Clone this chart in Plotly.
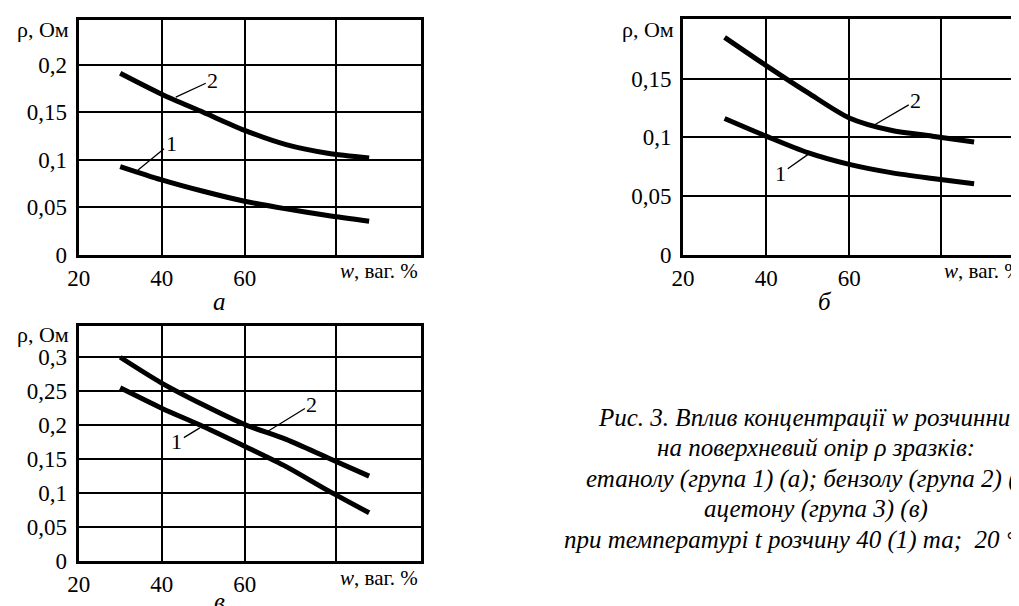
import plotly.graph_objects as go

# ---------------- data ----------------
w = [30, 40, 50, 60, 70, 80, 90]

a_rho_1 = [0.093, 0.079, 0.067, 0.0565, 0.0485, 0.0415, 0.0355]
a_rho_2 = [0.191, 0.169, 0.150, 0.131, 0.116, 0.107, 0.102]

b_rho_1 = [0.116, 0.101, 0.087, 0.077, 0.070, 0.065, 0.0605]
b_rho_2 = [0.185, 0.161, 0.138, 0.1165, 0.106, 0.101, 0.096]

v_rho_1 = [0.255, 0.225, 0.198, 0.169, 0.139, 0.104, 0.071]
v_rho_2 = [0.300, 0.262, 0.230, 0.201, 0.179, 0.152, 0.125]

x_ticks = [20, 40, 60, 82]
x_tick_labels = ["20", "40", "60", ""]

a_y_ticks = [0, 0.05, 0.1, 0.15, 0.2]
a_y_labels = ["0", "0,05", "0,1", "0,15", "0,2"]
b_y_ticks = [0, 0.05, 0.1, 0.15]
b_y_labels = ["0", "0,05", "0,1", "0,15"]
v_y_ticks = [0, 0.05, 0.1, 0.15, 0.2, 0.25, 0.3]
v_y_labels = ["0", "0,05", "0,1", "0,15", "0,2", "0,25", "0,3"]

y_title = "ρ, Ом"
x_title = "<i>w</i>, ваг. %"
panel_letters = ["а", "б", "в"]
caption_lines = [
    "Рис. 3. Вплив концентрації w розчинника",
    "на поверхневий опір ρ зразків:",
    "етанолу (група 1) (а); бензолу (група 2) (б);",
    "ацетону (група 3) (в)",
    "при температурі t розчину 40 (1) та;  20 °C (2)",
]

# ---------------- figure ----------------
W, H = 1019, 606
FONT = "Liberation Serif, Times New Roman, serif"


def px(x):
    return x / W


def py(y):
    return 1 - y / H


fig = go.Figure()

panels = [
    ("x", "y", a_rho_1, a_rho_2),
    ("x2", "y2", b_rho_1, b_rho_2),
    ("x3", "y3", v_rho_1, v_rho_2),
]
for xa, ya, r1, r2 in panels:
    for r in (r1, r2):
        fig.add_trace(go.Scatter(
            x=w, y=r, xaxis=xa, yaxis=ya, mode="lines",
            line=dict(color="black", width=5, shape="spline", smoothing=0.8),
            showlegend=False, hoverinfo="skip"))


def xaxis(domain, rng):
    return dict(domain=domain, range=rng, tickvals=x_ticks, ticktext=x_tick_labels,
                showgrid=True, gridcolor="black", gridwidth=2, zeroline=False,
                showline=True, linecolor="black", linewidth=3, mirror=True,
                ticks="", automargin=False,
                tickfont=dict(family=FONT, size=23, color="black"),
                fixedrange=True)


def yaxis(domain, rng, tv, tt):
    return dict(domain=domain, range=rng, tickvals=tv, ticktext=tt,
                showgrid=True, gridcolor="black", gridwidth=2, zeroline=False,
                showline=True, linecolor="black", linewidth=3, mirror=True,
                ticks="", ticklabelstandoff=4, automargin=False,
                tickfont=dict(family=FONT, size=23, color="black"),
                fixedrange=True)


fig.update_layout(
    width=W, height=H, autosize=False,
    margin=dict(l=0, r=0, t=0, b=0, pad=0),
    paper_bgcolor="white", plot_bgcolor="white",
    xaxis=dict(xaxis([px(70.7), px(413)], [20, 102.5]), anchor="y"),
    yaxis=dict(yaxis([py(247), py(11.5)], [0, 0.2475], a_y_ticks, a_y_labels), anchor="x"),
    xaxis2=dict(xaxis([px(675), px(1016)], [20, 102.0]), anchor="y2"),
    yaxis2=dict(yaxis([py(247), py(10.5)], [0, 0.201], b_y_ticks, b_y_labels), anchor="x2"),
    xaxis3=dict(xaxis([px(70.7), px(413)], [20, 102.5]), anchor="y3"),
    yaxis3=dict(yaxis([py(553), py(318)], [0, 0.346], v_y_ticks, v_y_labels), anchor="x3"),
)

ann = []
txt = dict(family=FONT, size=22, color="black")

# axis titles
for xr, yc in [(63, 21.5), (668, 22), (63, 326)]:
    ann.append(dict(text=y_title, x=px(xr), y=py(yc), xref="paper", yref="paper",
                    xanchor="right", yanchor="middle", showarrow=False, font=txt))
for xr, yc in [(411, 263), (1015, 263), (411, 570)]:
    ann.append(dict(text=x_title, x=px(xr), y=py(yc), xref="paper", yref="paper",
                    xanchor="right", yanchor="middle", showarrow=False, borderpad=0,
                    font=dict(family=FONT, size=21, color="black")))

# panel letters
for letter, (xc, yc) in zip(panel_letters, [(211, 293), (817, 293), (211, 593)]):
    ann.append(dict(text="<i>" + letter + "</i>", x=px(xc), y=py(yc), xref="paper", yref="paper",
                    xanchor="center", yanchor="middle", showarrow=False, borderpad=0,
                    font=dict(family=FONT, size=25, color="black")))

# curve labels with leader lines
lbl = dict(family=FONT, size=22, color="black")
curve_labels = [
    ("x", "y", "2", 43.4, 0.166, 37, -17),
    ("x", "y", "1", 34.3, 0.0893, 33, -27),
    ("x2", "y2", "2", 66.1, 0.1107, 41, -24),
    ("x2", "y2", "1", 50.0, 0.0853, -27, 19),
    ("x3", "y3", "2", 65.6, 0.191, 44, -27),
    ("x3", "y3", "1", 49.2, 0.196, -23, 14),
]
for xa, ya, t, x0, y0, dx, dy in curve_labels:
    ann.append(dict(text=t, x=x0, y=y0, xref=xa, yref=ya, ax=dx, ay=dy,
                    showarrow=True, arrowhead=0, arrowwidth=1.3, arrowcolor="black",
                    standoff=0, font=lbl))

# caption
for i, line in enumerate(caption_lines):
    ann.append(dict(text="<i>" + line + "</i>", x=px(808), y=py(409 + i * 30.8),
                    xref="paper", yref="paper", xanchor="center", yanchor="middle",
                    showarrow=False, font=dict(family=FONT, size=25, color="black")))

fig.update_layout(annotations=ann)
fig.write_html("out.html")
